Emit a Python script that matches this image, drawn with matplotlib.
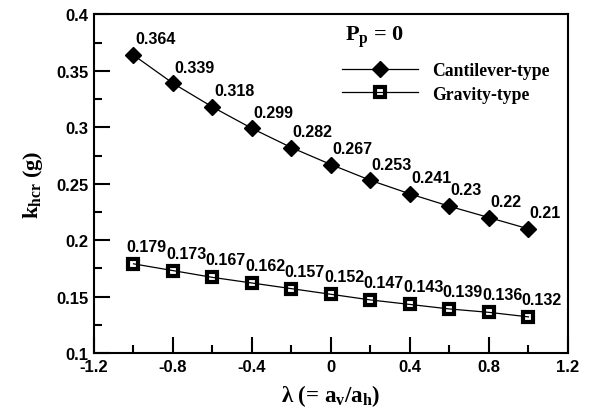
import numpy as np
import matplotlib
matplotlib.use('Agg')
import matplotlib.pyplot as plt
from matplotlib.ticker import MultipleLocator, FormatStrFormatter

# data
lam = [-1.0, -0.8, -0.6, -0.4, -0.2, 0.0, 0.2, 0.4, 0.6, 0.8, 1.0]
k_cant = [0.364, 0.339, 0.318, 0.299, 0.282, 0.267, 0.253, 0.241, 0.23, 0.22, 0.21]
k_grav = [0.179, 0.173, 0.167, 0.162, 0.157, 0.152, 0.147, 0.143, 0.139, 0.136, 0.132]

plt.rcParams['mathtext.fontset'] = 'custom'
plt.rcParams['mathtext.rm'] = 'Liberation Serif:bold'
plt.rcParams['mathtext.it'] = 'Liberation Serif:bold'
plt.rcParams['mathtext.bf'] = 'Liberation Serif:bold'

sans = 'Liberation Sans'
serif = 'Liberation Serif'

fig = plt.figure(figsize=(5.93, 4.14), dpi=100)
ax = fig.add_axes([0.1585, 0.145, 0.7993, 0.8176])

ax.plot(lam, k_cant, color='black', lw=0.9, marker='D', ms=8,
        mfc='black', mec='black', label='Cantilever-type')
ax.plot(lam, k_grav, color='black', lw=0.9, marker='s', ms=7,
        mfc='none', mec='black', mew=3, label='Gravity-type')

# value labels
for x, y in zip(lam, k_cant):
    ax.annotate(f'{y:g}', (x, y), xytext=(1, 8.5), textcoords='offset points',
                ha='left', va='baseline', fontsize=11.5, fontweight='bold',
                family=sans)
for x, y in zip(lam, k_grav):
    ax.annotate(f'{y:g}', (x, y), xytext=(-5, 9.4), textcoords='offset points',
                ha='left', va='baseline', fontsize=11.5, fontweight='bold',
                family=sans)

ax.set_xlim(-1.2, 1.2)
ax.set_ylim(0.1, 0.4)
ax.xaxis.set_major_locator(MultipleLocator(0.4))
ax.xaxis.set_minor_locator(MultipleLocator(0.2))
ax.yaxis.set_major_locator(MultipleLocator(0.05))
ax.yaxis.set_minor_locator(MultipleLocator(0.025))
ax.xaxis.set_major_formatter(FormatStrFormatter('%g'))
ax.yaxis.set_major_formatter(FormatStrFormatter('%g'))

ax.tick_params(which='both', direction='in', top=False, right=False)
ax.tick_params(which='major', length=11.5, width=1.5, pad=4)
ax.tick_params(which='minor', length=6, width=1.5)
for sp in ax.spines.values():
    sp.set_linewidth(1.5)
for lbl in ax.get_xticklabels() + ax.get_yticklabels():
    lbl.set_family(sans)
    lbl.set_fontweight('bold')
    lbl.set_fontsize(12)

ax.set_xlabel(r'λ (= a$_\mathrm{v}$/a$_\mathrm{h}$)', family=serif,
              fontweight='bold', fontsize=16.5, labelpad=6)
ax.set_ylabel(r'k$_\mathrm{hcr}$ (g)', family=serif, fontweight='bold',
              fontsize=16, labelpad=8)

# legend title drawn separately so it sits where the original has it
ax.text(0.5295, 0.936, r'P$_\mathrm{p}$ = 0', transform=ax.transAxes,
        ha='left', va='center', family=serif, fontweight='bold', fontsize=16)
leg = ax.legend(loc='center left', bbox_to_anchor=(0.523, 0.799), frameon=False,
                handlelength=4.3, borderaxespad=0, borderpad=0,
                prop={'family': serif, 'weight': 'bold', 'size': 12.7},
                labelspacing=0.35)

fig.savefig('out.png', dpi=100)
